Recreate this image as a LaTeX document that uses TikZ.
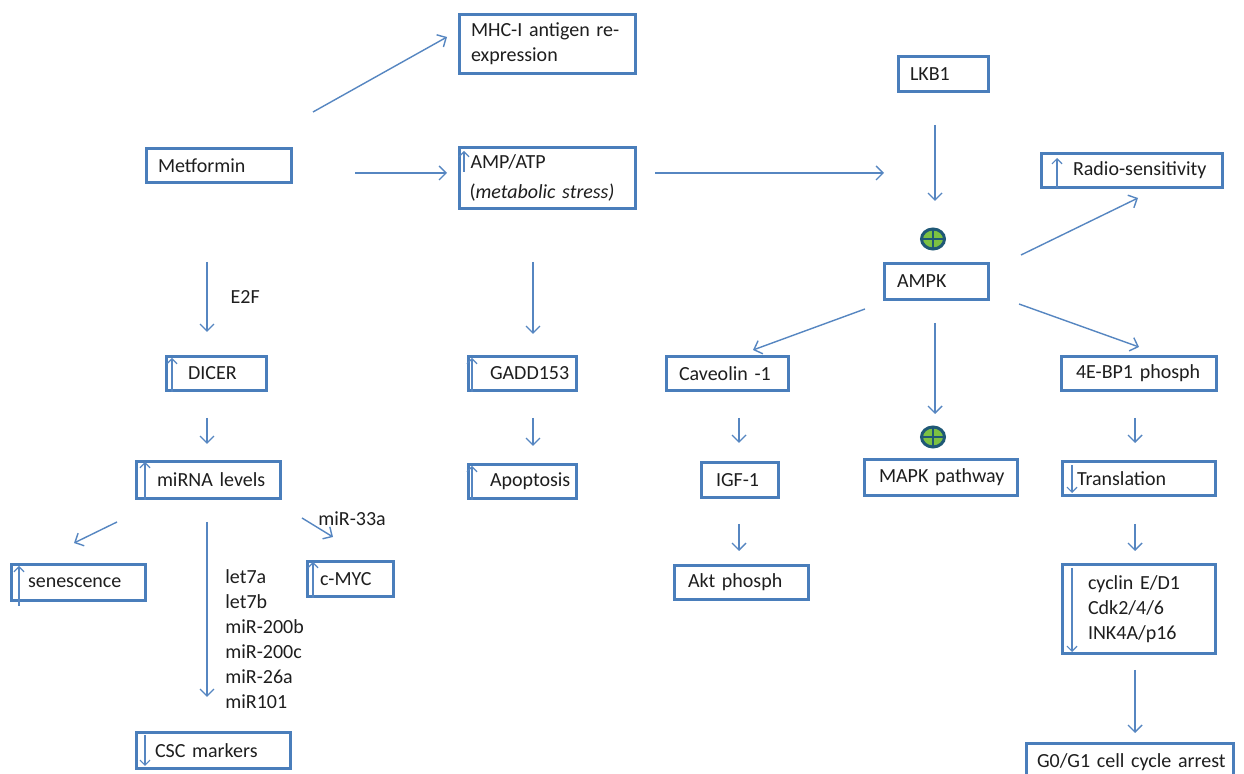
\documentclass[tikz,border=0pt]{standalone}
\usepackage{fontspec}
\setmainfont{Carlito}
\usetikzlibrary{arrows.meta,shapes.geometric}

\definecolor{boxblue}{RGB}{74,126,187}
\definecolor{arrowblue}{RGB}{86,134,193}
\definecolor{plusgreen}{RGB}{124,193,66}
\definecolor{plusrim}{RGB}{31,88,118}
\definecolor{textgray}{RGB}{30,30,30}

\tikzset{
  box/.style={draw=boxblue, line width=1.5pt, anchor=north west, inner xsep=0pt, inner ysep=1pt,
    align=left, text=textgray, font=\fontsize{10}{12.5}\selectfont},
  arr/.style={draw=arrowblue, line width=0.7pt, -{Straight Barb[length=3.5pt,width=7pt]}},
  tick/.style={draw=arrowblue, line width=0.6pt, -{Straight Barb[length=2.5pt,width=5pt]}},
  lbl/.style={inner sep=0pt, text=textgray, align=left, font=\fontsize{10}{12.5}\selectfont},
  plus/.style={ellipse, draw=plusrim, fill=plusgreen, line width=1.5pt, minimum width=11.5pt,
    minimum height=10pt, inner sep=0pt,
    path picture={\draw[plusrim, line width=1.4pt]
      (path picture bounding box.north) -- (path picture bounding box.south)
      (path picture bounding box.west) -- (path picture bounding box.east);}}
}

\begin{document}
\begin{tikzpicture}[x=0.5pt,y=0.5pt,yscale=-1]
\path[use as bounding box, fill=white] (0,0) rectangle (1244,774);

% Boxes, top
\node[box, text width=88pt, minimum height=29.5pt] (mhc) at (458,13) {\hspace*{5.75pt}MHC-I antigen re-\\\hspace*{5.75pt}expression};
\node[box, text width=72.5pt, minimum height=17pt] (metformin) at (145,147) {\hspace*{5.75pt}Metformin};
\node[box, text width=88pt, minimum height=30.5pt] (amp) at (458,146) {\hspace*{5.5pt}AMP/ATP\\[2.5pt]\hspace*{5pt}(\textit{metabolic stress)}};
\node[box, text width=45pt, minimum height=17.5pt] (lkb1) at (897,55) {\hspace*{5.75pt}LKB1};
\node[box, text width=90.5pt, minimum height=17pt] (radio) at (1040,152) {\hspace*{15.75pt}Radio-sensitivity};
\node[box, text width=52pt, minimum height=18pt] (ampk) at (883,262) {\hspace*{6.25pt}AMPK};

% Boxes, middle
\node[box, text width=50pt, minimum height=17pt] (dicer) at (165,355) {\hspace*{10.75pt}DICER};
\node[box, text width=54pt, minimum height=17pt] (gadd) at (467,355) {\hspace*{10.75pt}GADD153};
\node[box, text width=61pt, minimum height=17pt] (caveolin) at (665,355) {\hspace*{6.25pt}Caveolin -1};
\node[box, text width=77.5pt, minimum height=17pt] (fourebp) at (1060,355) {\hspace*{7.25pt}4E-BP1 phosph};
\node[box, text width=72pt, minimum height=18.5pt] (mirna) at (135,460) {\hspace*{10.25pt}miRNA levels};
\node[box, text width=54pt, minimum height=17pt] (apoptosis) at (467,463) {\hspace*{10.75pt}Apoptosis};
\node[box, text width=38.5pt, minimum height=17.5pt] (igf) at (700,461) {\hspace*{7.25pt}IGF-1};
\node[box, text width=76.5pt, minimum height=18pt] (mapk) at (863,458) {\hspace*{7.25pt}MAPK pathway};
\node[box, text width=76.5pt, minimum height=17pt] (translation) at (1061,460) {\hspace*{7.25pt}Translation};

% Boxes, bottom
\node[box, text width=67pt, minimum height=18pt] (senescence) at (10,563) {\hspace*{8.25pt}senescence};
\node[box, text width=43pt, minimum height=17.5pt] (cmyc) at (306,560) {\hspace*{6.25pt}c-MYC};
\node[box, text width=67pt, minimum height=17pt] (akt) at (673,564) {\hspace*{6.75pt}Akt phosph};
\node[box, text width=76.5pt, minimum height=44.5pt] (cyclin) at (1061,563) {\hspace*{12.75pt}cyclin E/D1\\\hspace*{12.75pt}Cdk2/4/6\\\hspace*{12.75pt}INK4A/p16};
\node[box, text width=77pt, minimum height=18pt] (csc) at (135,731) {\hspace*{9.25pt}CSC markers};
\node[box, text width=103.5pt, minimum height=18.5pt] (gzero) at (1025,742) {\hspace*{5.25pt}G0/G1 cell cycle arrest};

% Activation marks
\node[plus] (ampkon) at (933,239) {};
\node[plus] (mapkon) at (933,437) {};

% Text Node
\node[lbl, anchor=west] (mir33) at (318,519) {miR-33a};
% Text Node
\node[lbl, anchor=north west] (mirlist) at (225,569) {let7a\\let7b\\miR-200b\\miR-200c\\miR-26a\\miR101};

% Up / down marks inside boxes
\draw[tick] ([xshift=3pt,yshift=13pt]amp.north west) -- ([xshift=3pt,yshift=2.5pt]amp.north west);
\draw[tick] ([xshift=3.5pt]dicer.south west) -- ([xshift=3.5pt,yshift=1.5pt]dicer.north west);
\draw[tick] ([xshift=2.5pt]gadd.south west) -- ([xshift=2.5pt,yshift=1.5pt]gadd.north west);
\draw[tick] ([xshift=2.5pt]apoptosis.south west) -- ([xshift=2.5pt,yshift=1.5pt]apoptosis.north west);
\draw[tick] ([xshift=5pt]mirna.south west) -- ([xshift=5pt,yshift=1pt]mirna.north west);
\draw[tick] ([xshift=4.5pt,yshift=2pt]senescence.south west) -- ([xshift=4.5pt,yshift=1.5pt]senescence.north west);
\draw[tick] ([xshift=3.5pt]cmyc.south west) -- ([xshift=3.5pt,yshift=1pt]cmyc.north west);
\draw[tick] ([xshift=8.5pt,yshift=-0.5pt]radio.south west) -- ([xshift=8.5pt,yshift=3pt]radio.north west);
\draw[tick] ([xshift=5.5pt,yshift=2.5pt]translation.north west) -- ([xshift=5.5pt,yshift=-2pt]translation.south west);
\draw[tick] ([xshift=5.5pt,yshift=2.5pt]cyclin.north west) -- ([xshift=5.5pt,yshift=-1.5pt]cyclin.south west);
\draw[tick] ([xshift=5pt,yshift=2pt]csc.north west) -- ([xshift=5pt,yshift=-2pt]csc.south west);

% Connectors
\draw[arr] ([xshift=10pt,yshift=-17.5pt]metformin.north east) -- ([xshift=-5.5pt,yshift=-3.5pt]mhc.west);
\draw[arr] ([xshift=31pt,yshift=3.75pt]metformin.east) -- ([xshift=-5.5pt,yshift=-2.5pt]amp.west);
\draw[arr] ([xshift=9pt,yshift=-2.5pt]amp.east) -- ([xshift=0.5pt,yshift=-44.5pt]ampk.north west);
\draw[arr] ([xshift=-4.25pt,yshift=16pt]lkb1.south) -- ([xshift=1pt,yshift=-13.25pt]ampkon.north);
\draw[arr] ([xshift=15.5pt,yshift=-3.5pt]ampk.north east) -- ([xshift=3pt,yshift=4.5pt]radio.south);
\draw[arr] ([xshift=-9pt,yshift=4pt]ampk.south west) -- ([xshift=12.75pt,yshift=-2.5pt]caveolin.north);
\draw[arr] ([xshift=-0.75pt,yshift=11pt]ampk.south) -- ([xshift=1pt,yshift=-5.75pt]mapkon.north);
\draw[arr] ([xshift=14.5pt,yshift=1.5pt]ampk.south east) -- ([yshift=-4pt]fourebp.north);
\draw[arr] ([xshift=-6pt,yshift=39pt]metformin.south) -- node[lbl, anchor=west, xshift=11.5pt] (e2f) {E2F} ([xshift=-4.75pt,yshift=-11.5pt]dicer.north);
\draw[arr] ([xshift=-4.75pt,yshift=13pt]dicer.south) -- ([xshift=-0.75pt,yshift=-8pt]mirna.north);
\draw[arr] ([xshift=-7.25pt,yshift=26pt]amp.south) -- ([xshift=5.25pt,yshift=-10.5pt]gadd.north);
\draw[arr] ([xshift=5.25pt,yshift=13pt]gadd.south) -- ([xshift=5.25pt,yshift=-8.5pt]apoptosis.north);
\draw[arr] ([xshift=5.75pt,yshift=13pt]caveolin.south) -- ([xshift=-0.5pt,yshift=-9pt]igf.north);
\draw[arr] ([xshift=-0.5pt,yshift=12.5pt]igf.south) -- ([xshift=-1.25pt,yshift=-6.5pt]akt.north);
\draw[arr] ([xshift=-2pt,yshift=13pt]fourebp.south) -- ([xshift=-2pt,yshift=-8.5pt]translation.north);
\draw[arr] ([xshift=-2pt,yshift=13.5pt]translation.south) -- ([xshift=-2pt,yshift=-6pt]cyclin.north);
\draw[arr] ([xshift=-2pt,yshift=7.5pt]cyclin.south) -- ([xshift=2.5pt,yshift=-4.5pt]gzero.north);
\draw[arr] ([xshift=-9pt,yshift=11pt]mirna.south west) -- ([xshift=-2.25pt,yshift=-10pt]senescence.north);
\draw[arr] ([xshift=-0.75pt,yshift=11pt]mirna.south) -- ([xshift=-3.25pt,yshift=-17pt]csc.north);
\draw[arr] ([xshift=10pt,yshift=9pt]mirna.south east) -- ([xshift=-8.75pt,yshift=-11.5pt]cmyc.north);

\end{tikzpicture}
\end{document}
